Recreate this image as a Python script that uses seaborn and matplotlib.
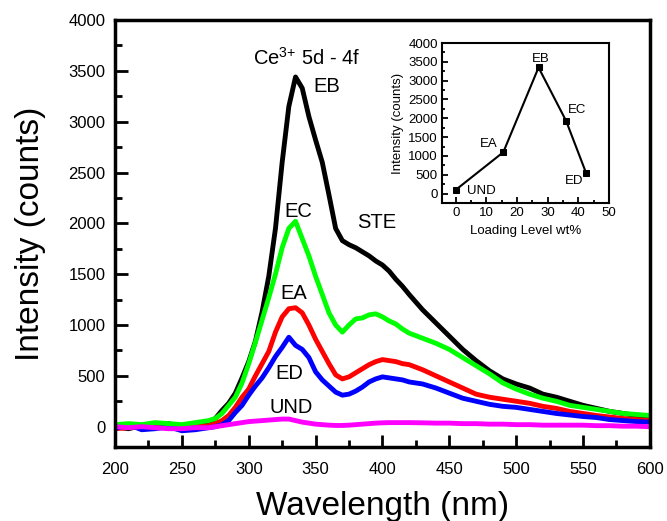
import matplotlib
matplotlib.use("Agg")
import matplotlib.pyplot as plt
import seaborn as sns
import pandas as pd
from matplotlib.ticker import MultipleLocator

# ── data ─────────────────────────────────────────────────────────────────────
wavelength = [200, 210, 220, 230, 240, 250, 260, 270, 275, 280, 285, 290, 295,
              300, 305, 310, 315, 320, 325, 330, 335, 340, 345, 350, 355, 360,
              365, 370, 375, 380, 385, 390, 395, 400, 405, 410, 415, 420, 430,
              440, 450, 460, 470, 480, 490, 500, 510, 520, 530, 540, 550, 560,
              570, 580, 590, 600]

eb = [0, -20, 10, 0, 30, 0, 10, 40, 80, 160, 230, 330, 480,
      640, 840, 1130, 1480, 1950, 2600, 3150, 3440, 3330, 3050, 2820, 2600, 2280,
      1950, 1830, 1790, 1760, 1720, 1680, 1630, 1590, 1530, 1450, 1380, 1300, 1150,
      1020, 890, 760, 650, 550, 470, 420, 380, 320, 290, 250, 210, 180,
      150, 130, 110, 100]

ec = [20, 30, 20, 40, 30, 20, 40, 60, 80, 130, 210, 290, 430,
      620, 830, 1050, 1270, 1500, 1760, 1950, 2020, 1850, 1680, 1480, 1300, 1120,
      1000, 930, 1000, 1060, 1070, 1100, 1110, 1080, 1040, 1010, 960, 920, 870,
      820, 760, 680, 600, 520, 430, 370, 320, 280, 250, 210, 190, 170,
      150, 130, 120, 110]

ea = [-20, -10, 0, -10, 10, -20, 0, 10, 30, 60, 110, 190, 290,
      370, 500, 620, 740, 930, 1080, 1160, 1170, 1120, 1000, 860, 740, 620,
      510, 470, 490, 530, 570, 610, 640, 660, 650, 640, 620, 610, 560,
      500, 440, 380, 320, 290, 270, 250, 230, 200, 180, 150, 130, 110,
      95, 80, 70, 60]

ed = [-20, 20, -30, -20, 0, -40, -30, -10, 0, 20, 60, 140, 210,
      310, 400, 480, 580, 690, 780, 880, 800, 760, 680, 540, 460, 400,
      340, 310, 320, 350, 390, 440, 470, 490, 480, 470, 460, 440, 420,
      380, 330, 280, 250, 220, 200, 190, 170, 150, 130, 115, 100, 90,
      70, 60, 50, 45]

und = [0, -10, 0, -10, -20, -20, -10, -10, 0, 10, 20, 30, 40,
       50, 55, 60, 65, 70, 75, 75, 60, 45, 35, 25, 20, 15,
       12, 12, 15, 20, 25, 30, 35, 38, 40, 40, 40, 40, 38,
       35, 35, 30, 30, 25, 25, 20, 20, 15, 15, 15, 15, 10,
       10, 5, 5, 0]

# inset: peak intensity vs loading level
loading = [0, 15.5, 27, 36, 42.5]
peak_counts = [100, 1100, 3350, 1930, 550]
sample_names = ["UND", "EA", "EB", "EC", "ED"]

# ── plotting ─────────────────────────────────────────────────────────────────
sns.set_style("ticks")
plt.rcParams["font.family"] = ["Liberation Sans", "DejaVu Sans"]
plt.rcParams["mathtext.fontset"] = "custom"
plt.rcParams["mathtext.rm"] = "Liberation Sans"
plt.rcParams["mathtext.default"] = "regular"
plt.rcParams["xtick.direction"] = "in"
plt.rcParams["ytick.direction"] = "in"
for key in ("text.color", "axes.labelcolor", "axes.edgecolor",
            "xtick.color", "ytick.color"):
    plt.rcParams[key] = "black"

fig = plt.figure(figsize=(6.67, 5.21), dpi=100)
ax = fig.add_axes([0.1724, 0.142, 0.802, 0.8196])

series = [("EB", eb, "black"), ("EA", ea, "#ff0000"), ("ED", ed, "#0000ff"),
          ("EC", ec, "#00ff00"), ("UND", und, "#ff00ff")]
for name, vals, col in series:
    df = pd.DataFrame({"wl": wavelength, "I": vals})
    sns.lineplot(data=df, x="wl", y="I", color=col, lw=3.5, ax=ax)

ax.set_xlim(200, 600)
ax.set_ylim(-200, 4000)
ax.xaxis.set_major_locator(MultipleLocator(50))
ax.xaxis.set_minor_locator(MultipleLocator(25))
ax.yaxis.set_major_locator(MultipleLocator(500))
ax.yaxis.set_minor_locator(MultipleLocator(250))
ax.tick_params(which="major", length=9, width=2, labelsize=12)
ax.tick_params(axis="x", which="major", pad=11)
ax.tick_params(axis="y", which="major", pad=7)
ax.tick_params(which="minor", length=5, width=2)
for s in ax.spines.values():
    s.set_linewidth(2.5)
ax.set_xlabel("Wavelength (nm)", fontsize=24, labelpad=10)
ax.set_ylabel("Intensity (counts)", fontsize=24, labelpad=16)

txt = dict(fontsize=14.5, ha="center", va="center")
ax.text(343, 3630, "Ce$^{3{+}}$ 5d - 4f", **txt)
ax.text(358, 3346, "EB", **txt)
ax.text(337, 2120, "EC", **txt)
ax.text(396, 2013, "STE", **txt)
ax.text(334, 1314, "EA", **txt)
ax.text(330, 520, "ED", **txt)
ax.text(332, 193, "UND", **txt)

# inset
ins = fig.add_axes([0.6627, 0.6104, 0.2504, 0.307])
inset_df = pd.DataFrame({"load": loading, "counts": peak_counts})
sns.lineplot(data=inset_df, x="load", y="counts", color="black", lw=1.5,
             marker="s", markersize=5, markeredgecolor="black", ax=ins)
ins.set_xlim(-4.5, 50)
ins.set_ylim(-250, 4000)
ins.xaxis.set_major_locator(MultipleLocator(10))
ins.xaxis.set_minor_locator(MultipleLocator(5))
ins.yaxis.set_major_locator(MultipleLocator(500))
ins.yaxis.set_minor_locator(MultipleLocator(250))
ins.tick_params(which="major", length=4, width=1.3, labelsize=9.5, pad=3)
ins.tick_params(which="minor", length=2.5, width=1.3)
for s in ins.spines.values():
    s.set_linewidth(1.5)
ins.set_xlabel("Loading Level wt%", fontsize=9.5, labelpad=4)
ins.set_ylabel("Intensity (counts)", fontsize=9.5, labelpad=3)

offsets = {"UND": (8.4, -30), "EA": (-4.7, 227), "EB": (0.7, 233),
           "EC": (3.6, 281), "ED": (-4.0, -216)}
for name, xv, yv in zip(sample_names, loading, peak_counts):
    dx, dy = offsets[name]
    ins.text(xv + dx, yv + dy, name, fontsize=9.5, ha="center", va="center")

fig.savefig("out.png", dpi=100)
